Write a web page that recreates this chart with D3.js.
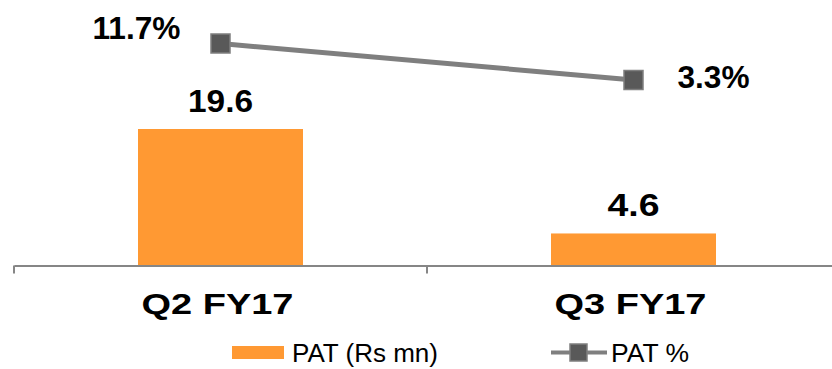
<!DOCTYPE html>
<html>
<head>
<meta charset="utf-8">
<script src="https://cdn.jsdelivr.net/npm/d3@7"></script>
<style>
  body { margin: 0; background: #fff; }
  svg { display: block; font-family: "Liberation Sans", Arial, sans-serif; }
</style>
</head>
<body>
<svg></svg>
<script>
let categories = ["Q2 FY17", "Q3 FY17"]
let patValues = [19.6, 4.6]
let patPercent = [11.7, 3.3]
let barLabels = ["19.6", "4.6"]
let lineLabels = ["11.7%", "3.3%"]
let legendLabels = ["PAT (Rs mn)", "PAT %"]

let width = 832
let height = 369
let axisY = 265.5

let orange = "#FF9933"
let grey = "#7F7F7F"
let darkGrey = "#595959"

let svg = d3.select("svg")
  .attr("width", width)
  .attr("height", height)

let xScale = d3.scaleBand()
  .domain(categories)
  .range([14, 840])

let barWidth = 165

let barScale = d3.scaleLinear()
  .domain([0, 19.6])
  .range([axisY, 129])

let lineScale = d3.scaleLinear()
  .domain([3.3, 11.7])
  .range([80, 43.5])

let cx = (d) => xScale(d) + xScale.bandwidth() / 2

// bars
svg.selectAll(".bar")
  .data(patValues)
  .enter()
  .append("rect")
  .attr("class", "bar")
  .attr("x", (d, i) => cx(categories[i]) - barWidth / 2)
  .attr("y", (d) => barScale(d))
  .attr("width", barWidth)
  .attr("height", (d) => axisY - barScale(d))
  .attr("fill", orange)

// axis
let xAxis = d3.axisBottom(xScale)
  .tickSize(0)
  .tickSizeOuter(0)
  .tickFormat("")

let axisG = svg.append("g")
  .attr("transform", `translate(0, ${axisY})`)
  .call(xAxis)

axisG.select(".domain").attr("stroke", "#868686").attr("stroke-width", 2)
axisG.selectAll(".tick").remove()

// ticks sit on band boundaries
svg.selectAll(".btick")
  .data(categories)
  .enter()
  .append("line")
  .attr("x1", (d) => xScale(d))
  .attr("x2", (d) => xScale(d))
  .attr("y1", axisY)
  .attr("y2", axisY + 8)
  .attr("stroke", "#868686")
  .attr("stroke-width", 2)

svg.selectAll(".cat")
  .data(categories)
  .enter()
  .append("text")
  .attr("x", (d) => cx(d) - 3)
  .attr("y", 314)
  .attr("text-anchor", "middle")
  .attr("font-size", 30)
  .attr("font-weight", "bold")
  .attr("textLength", 152)
  .attr("lengthAdjust", "spacingAndGlyphs")
  .text((d) => d)

// line
let line = d3.line()
  .x((d, i) => cx(categories[i]))
  .y((d) => lineScale(d))

svg.append("path")
  .datum(patPercent)
  .attr("d", line)
  .attr("fill", "none")
  .attr("stroke", grey)
  .attr("stroke-width", 5)

svg.selectAll(".marker")
  .data(patPercent)
  .enter()
  .append("rect")
  .attr("x", (d, i) => cx(categories[i]) - 9.5)
  .attr("y", (d) => lineScale(d) - 9.5)
  .attr("width", 19)
  .attr("height", 19)
  .attr("fill", darkGrey)
  .attr("stroke", grey)
  .attr("stroke-width", 1.5)

// value labels
svg.selectAll(".barLabel")
  .data(patValues)
  .enter()
  .append("text")
  .attr("x", (d, i) => cx(categories[i]))
  .attr("y", (d) => barScale(d) - 17)
  .attr("text-anchor", "middle")
  .attr("font-size", 31)
  .attr("font-weight", "bold")
  .attr("textLength", (d, i) => i === 0 ? 65 : 52)
  .attr("lengthAdjust", "spacingAndGlyphs")
  .text((d, i) => barLabels[i])

svg.selectAll(".lineLabel")
  .data(patPercent)
  .enter()
  .append("text")
  .attr("x", (d, i) => i === 0 ? cx(categories[i]) - 40 : cx(categories[i]) + 44)
  .attr("y", (d, i) => lineScale(d) - 5 + (i === 1 ? 13 : 0))
  .attr("text-anchor", (d, i) => i === 0 ? "end" : "start")
  .attr("font-size", 31)
  .attr("font-weight", "bold")
  .attr("textLength", (d, i) => i === 0 ? 88 : 72)
  .attr("lengthAdjust", "spacingAndGlyphs")
  .text((d, i) => lineLabels[i])

// legend
let legend = svg.append("g")
legend.append("rect")
  .attr("x", 232).attr("y", 346)
  .attr("width", 52).attr("height", 13)
  .attr("fill", orange)
legend.append("text")
  .attr("x", 292).attr("y", 362)
  .attr("font-size", 25)
  .attr("textLength", 146)
  .attr("lengthAdjust", "spacingAndGlyphs")
  .text(legendLabels[0])
legend.append("line")
  .attr("x1", 551).attr("x2", 607)
  .attr("y1", 352.5).attr("y2", 352.5)
  .attr("stroke", grey).attr("stroke-width", 4)
legend.append("rect")
  .attr("x", 570).attr("y", 344)
  .attr("width", 17).attr("height", 17)
  .attr("fill", darkGrey)
  .attr("stroke", grey)
  .attr("stroke-width", 1.5)
legend.append("text")
  .attr("x", 611).attr("y", 362)
  .attr("font-size", 25)
  .attr("textLength", 78)
  .attr("lengthAdjust", "spacingAndGlyphs")
  .text(legendLabels[1])
</script>
</body>
</html>
